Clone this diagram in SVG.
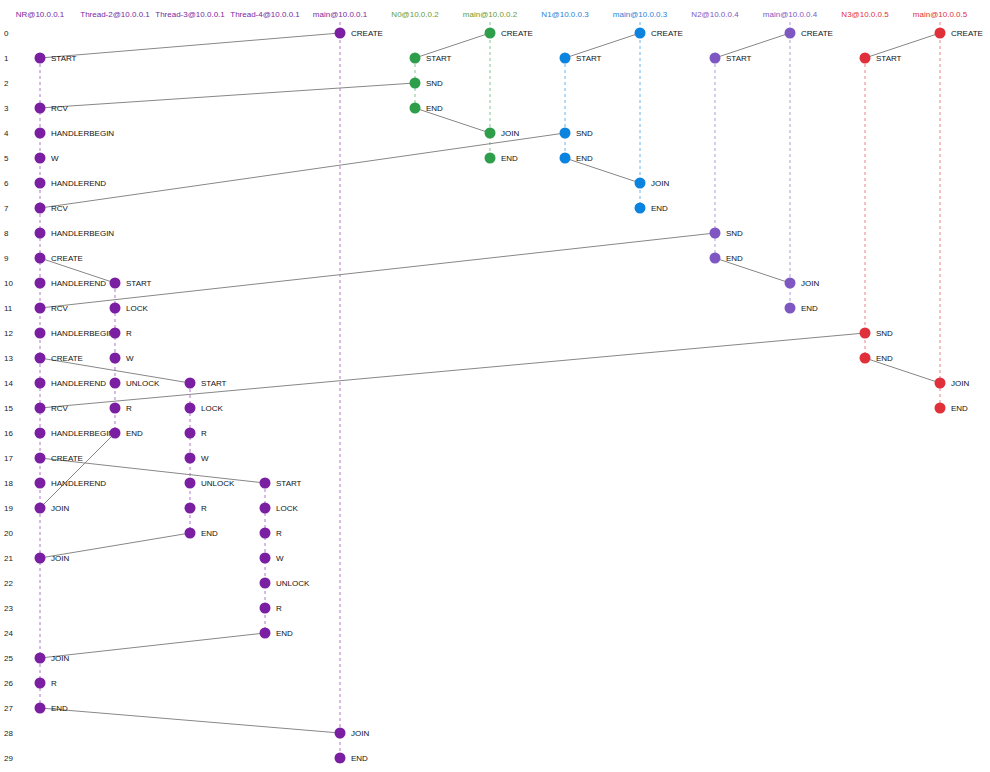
<svg xmlns="http://www.w3.org/2000/svg" width="990" height="772" viewBox="0 0 990 772">
<style>
text{font-family:"Liberation Sans",Arial,sans-serif;font-size:8px}
.hd{text-anchor:middle}
.rn{fill:#222}
.lb{fill:#111}
.life{stroke-width:1;stroke-dasharray:3,3;fill:none;opacity:0.6}
.cn{stroke:#888;stroke-width:1;fill:none}
.p{fill:#7b1fa2}.g{fill:#2e9e4b}.b{fill:#0b84e0}.v{fill:#7e57c2}.r{fill:#e0303a}
</style>
<rect width="990" height="772" fill="#fff"/>
<g id="headers">
<text class="hd" x="40" y="17" fill="#7b1fa2">NR@10.0.0.1</text>
<text class="hd" x="115" y="17" fill="#7b1fa2">Thread-2@10.0.0.1</text>
<text class="hd" x="190" y="17" fill="#7b1fa2">Thread-3@10.0.0.1</text>
<text class="hd" x="265" y="17" fill="#7b1fa2">Thread-4@10.0.0.1</text>
<text class="hd" x="340" y="17" fill="#7b1fa2">main@10.0.0.1</text>
<text class="hd" x="415" y="17" fill="#6a9a33">N0@10.0.0.2</text>
<text class="hd" x="490" y="17" fill="#6a9a33">main@10.0.0.2</text>
<text class="hd" x="565" y="17" fill="#2a7fd8">N1@10.0.0.3</text>
<text class="hd" x="640" y="17" fill="#2a7fd8">main@10.0.0.3</text>
<text class="hd" x="715" y="17" fill="#7e57c2">N2@10.0.0.4</text>
<text class="hd" x="790" y="17" fill="#7e57c2">main@10.0.0.4</text>
<text class="hd" x="865" y="17" fill="#e0303a">N3@10.0.0.5</text>
<text class="hd" x="940" y="17" fill="#e0303a">main@10.0.0.5</text>
</g>
<g id="rownums" class="rn">
<text x="4" y="36">0</text><text x="4" y="61">1</text><text x="4" y="86">2</text><text x="4" y="111">3</text><text x="4" y="136">4</text><text x="4" y="161">5</text><text x="4" y="186">6</text><text x="4" y="211">7</text><text x="4" y="236">8</text><text x="4" y="261">9</text>
<text x="4" y="286">10</text><text x="4" y="311">11</text><text x="4" y="336">12</text><text x="4" y="361">13</text><text x="4" y="386">14</text><text x="4" y="411">15</text><text x="4" y="436">16</text><text x="4" y="461">17</text><text x="4" y="486">18</text><text x="4" y="511">19</text>
<text x="4" y="536">20</text><text x="4" y="561">21</text><text x="4" y="586">22</text><text x="4" y="611">23</text><text x="4" y="636">24</text><text x="4" y="661">25</text><text x="4" y="686">26</text><text x="4" y="711">27</text><text x="4" y="736">28</text><text x="4" y="761">29</text>
</g>
<g id="lifelines">
<line class="life" x1="40" y1="58" x2="40" y2="708" stroke="#7b1fa2"/>
<line class="life" x1="115" y1="283" x2="115" y2="433" stroke="#7b1fa2"/>
<line class="life" x1="190" y1="383" x2="190" y2="533" stroke="#7b1fa2"/>
<line class="life" x1="265" y1="483" x2="265" y2="633" stroke="#7b1fa2"/>
<line class="life" x1="340" y1="22" x2="340" y2="758" stroke="#7b1fa2"/>
<line class="life" x1="415" y1="58" x2="415" y2="108" stroke="#2e9e4b"/>
<line class="life" x1="490" y1="22" x2="490" y2="158" stroke="#2e9e4b"/>
<line class="life" x1="565" y1="58" x2="565" y2="158" stroke="#0b84e0"/>
<line class="life" x1="640" y1="22" x2="640" y2="208" stroke="#0b84e0"/>
<line class="life" x1="715" y1="58" x2="715" y2="258" stroke="#7e57c2"/>
<line class="life" x1="790" y1="22" x2="790" y2="308" stroke="#7e57c2"/>
<line class="life" x1="865" y1="58" x2="865" y2="358" stroke="#e0303a"/>
<line class="life" x1="940" y1="22" x2="940" y2="408" stroke="#e0303a"/>
</g>
<g id="connectors" class="cn">
<line x1="340" y1="33" x2="40" y2="58"/>
<line x1="415" y1="83" x2="40" y2="108"/>
<line x1="490" y1="33" x2="415" y2="58"/>
<line x1="415" y1="108" x2="490" y2="133"/>
<line x1="640" y1="33" x2="565" y2="58"/>
<line x1="565" y1="133" x2="40" y2="208"/>
<line x1="565" y1="158" x2="640" y2="183"/>
<line x1="790" y1="33" x2="715" y2="58"/>
<line x1="715" y1="233" x2="40" y2="308"/>
<line x1="715" y1="258" x2="790" y2="283"/>
<line x1="940" y1="33" x2="865" y2="58"/>
<line x1="865" y1="333" x2="40" y2="408"/>
<line x1="865" y1="358" x2="940" y2="383"/>
<line x1="40" y1="258" x2="115" y2="283"/>
<line x1="40" y1="358" x2="190" y2="383"/>
<line x1="40" y1="458" x2="265" y2="483"/>
<line x1="115" y1="433" x2="40" y2="508"/>
<line x1="190" y1="533" x2="40" y2="558"/>
<line x1="265" y1="633" x2="40" y2="658"/>
<line x1="40" y1="708" x2="340" y2="733"/>
</g>
<g id="NR" class="lb">
<circle class="p" cx="40" cy="58" r="5.5"/><text x="51" y="61">START</text>
<circle class="p" cx="40" cy="108" r="5.5"/><text x="51" y="111">RCV</text>
<circle class="p" cx="40" cy="133" r="5.5"/><text x="51" y="136">HANDLERBEGIN</text>
<circle class="p" cx="40" cy="158" r="5.5"/><text x="51" y="161">W</text>
<circle class="p" cx="40" cy="183" r="5.5"/><text x="51" y="186">HANDLEREND</text>
<circle class="p" cx="40" cy="208" r="5.5"/><text x="51" y="211">RCV</text>
<circle class="p" cx="40" cy="233" r="5.5"/><text x="51" y="236">HANDLERBEGIN</text>
<circle class="p" cx="40" cy="258" r="5.5"/><text x="51" y="261">CREATE</text>
<circle class="p" cx="40" cy="283" r="5.5"/><text x="51" y="286">HANDLEREND</text>
<circle class="p" cx="40" cy="308" r="5.5"/><text x="51" y="311">RCV</text>
<circle class="p" cx="40" cy="333" r="5.5"/><text x="51" y="336">HANDLERBEGIN</text>
<circle class="p" cx="40" cy="358" r="5.5"/><text x="51" y="361">CREATE</text>
<circle class="p" cx="40" cy="383" r="5.5"/><text x="51" y="386">HANDLEREND</text>
<circle class="p" cx="40" cy="408" r="5.5"/><text x="51" y="411">RCV</text>
<circle class="p" cx="40" cy="433" r="5.5"/><text x="51" y="436">HANDLERBEGIN</text>
<circle class="p" cx="40" cy="458" r="5.5"/><text x="51" y="461">CREATE</text>
<circle class="p" cx="40" cy="483" r="5.5"/><text x="51" y="486">HANDLEREND</text>
<circle class="p" cx="40" cy="508" r="5.5"/><text x="51" y="511">JOIN</text>
<circle class="p" cx="40" cy="558" r="5.5"/><text x="51" y="561">JOIN</text>
<circle class="p" cx="40" cy="658" r="5.5"/><text x="51" y="661">JOIN</text>
<circle class="p" cx="40" cy="683" r="5.5"/><text x="51" y="686">R</text>
<circle class="p" cx="40" cy="708" r="5.5"/><text x="51" y="711">END</text>
</g>
<g id="Thread-2" class="lb">
<circle class="p" cx="115" cy="283" r="5.5"/><text x="126" y="286">START</text>
<circle class="p" cx="115" cy="308" r="5.5"/><text x="126" y="311">LOCK</text>
<circle class="p" cx="115" cy="333" r="5.5"/><text x="126" y="336">R</text>
<circle class="p" cx="115" cy="358" r="5.5"/><text x="126" y="361">W</text>
<circle class="p" cx="115" cy="383" r="5.5"/><text x="126" y="386">UNLOCK</text>
<circle class="p" cx="115" cy="408" r="5.5"/><text x="126" y="411">R</text>
<circle class="p" cx="115" cy="433" r="5.5"/><text x="126" y="436">END</text>
</g>
<g id="Thread-3" class="lb">
<circle class="p" cx="190" cy="383" r="5.5"/><text x="201" y="386">START</text>
<circle class="p" cx="190" cy="408" r="5.5"/><text x="201" y="411">LOCK</text>
<circle class="p" cx="190" cy="433" r="5.5"/><text x="201" y="436">R</text>
<circle class="p" cx="190" cy="458" r="5.5"/><text x="201" y="461">W</text>
<circle class="p" cx="190" cy="483" r="5.5"/><text x="201" y="486">UNLOCK</text>
<circle class="p" cx="190" cy="508" r="5.5"/><text x="201" y="511">R</text>
<circle class="p" cx="190" cy="533" r="5.5"/><text x="201" y="536">END</text>
</g>
<g id="Thread-4" class="lb">
<circle class="p" cx="265" cy="483" r="5.5"/><text x="276" y="486">START</text>
<circle class="p" cx="265" cy="508" r="5.5"/><text x="276" y="511">LOCK</text>
<circle class="p" cx="265" cy="533" r="5.5"/><text x="276" y="536">R</text>
<circle class="p" cx="265" cy="558" r="5.5"/><text x="276" y="561">W</text>
<circle class="p" cx="265" cy="583" r="5.5"/><text x="276" y="586">UNLOCK</text>
<circle class="p" cx="265" cy="608" r="5.5"/><text x="276" y="611">R</text>
<circle class="p" cx="265" cy="633" r="5.5"/><text x="276" y="636">END</text>
</g>
<g id="main-10.0.0.1" class="lb">
<circle class="p" cx="340" cy="33" r="5.5"/><text x="351" y="36">CREATE</text>
<circle class="p" cx="340" cy="733" r="5.5"/><text x="351" y="736">JOIN</text>
<circle class="p" cx="340" cy="758" r="5.5"/><text x="351" y="761">END</text>
</g>
<g id="N0" class="lb">
<circle class="g" cx="415" cy="58" r="5.5"/><text x="426" y="61">START</text>
<circle class="g" cx="415" cy="83" r="5.5"/><text x="426" y="86">SND</text>
<circle class="g" cx="415" cy="108" r="5.5"/><text x="426" y="111">END</text>
</g>
<g id="main-10.0.0.2" class="lb">
<circle class="g" cx="490" cy="33" r="5.5"/><text x="501" y="36">CREATE</text>
<circle class="g" cx="490" cy="133" r="5.5"/><text x="501" y="136">JOIN</text>
<circle class="g" cx="490" cy="158" r="5.5"/><text x="501" y="161">END</text>
</g>
<g id="N1" class="lb">
<circle class="b" cx="565" cy="58" r="5.5"/><text x="576" y="61">START</text>
<circle class="b" cx="565" cy="133" r="5.5"/><text x="576" y="136">SND</text>
<circle class="b" cx="565" cy="158" r="5.5"/><text x="576" y="161">END</text>
</g>
<g id="main-10.0.0.3" class="lb">
<circle class="b" cx="640" cy="33" r="5.5"/><text x="651" y="36">CREATE</text>
<circle class="b" cx="640" cy="183" r="5.5"/><text x="651" y="186">JOIN</text>
<circle class="b" cx="640" cy="208" r="5.5"/><text x="651" y="211">END</text>
</g>
<g id="N2" class="lb">
<circle class="v" cx="715" cy="58" r="5.5"/><text x="726" y="61">START</text>
<circle class="v" cx="715" cy="233" r="5.5"/><text x="726" y="236">SND</text>
<circle class="v" cx="715" cy="258" r="5.5"/><text x="726" y="261">END</text>
</g>
<g id="main-10.0.0.4" class="lb">
<circle class="v" cx="790" cy="33" r="5.5"/><text x="801" y="36">CREATE</text>
<circle class="v" cx="790" cy="283" r="5.5"/><text x="801" y="286">JOIN</text>
<circle class="v" cx="790" cy="308" r="5.5"/><text x="801" y="311">END</text>
</g>
<g id="N3" class="lb">
<circle class="r" cx="865" cy="58" r="5.5"/><text x="876" y="61">START</text>
<circle class="r" cx="865" cy="333" r="5.5"/><text x="876" y="336">SND</text>
<circle class="r" cx="865" cy="358" r="5.5"/><text x="876" y="361">END</text>
</g>
<g id="main-10.0.0.5" class="lb">
<circle class="r" cx="940" cy="33" r="5.5"/><text x="951" y="36">CREATE</text>
<circle class="r" cx="940" cy="383" r="5.5"/><text x="951" y="386">JOIN</text>
<circle class="r" cx="940" cy="408" r="5.5"/><text x="951" y="411">END</text>
</g>
</svg>
